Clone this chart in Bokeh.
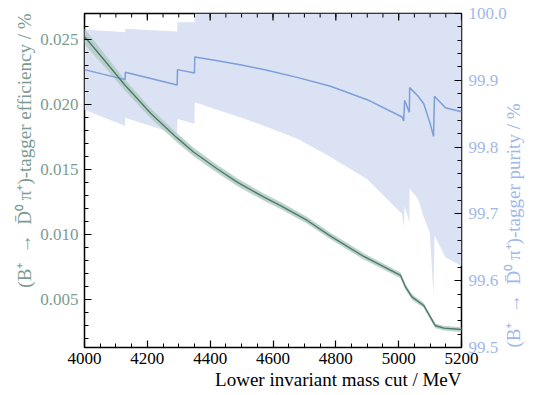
import math
from bokeh.plotting import figure
from bokeh.models import (Range1d, LinearAxis, FixedTicker, PrintfTickFormatter,
                          ColumnDataSource, Title)
from bokeh.embed import file_html
from bokeh.resources import INLINE

# ---- data ----
eff_mass = [4000, 4064, 4127, 4212, 4292, 4348, 4422, 4486, 4571, 4624, 4709, 4783,
            4889, 5006, 5022, 5043, 5080, 5101, 5117, 5144, 5200]
eff_val = [0.02525, 0.02341, 0.02156, 0.01931, 0.01751, 0.01635, 0.01508, 0.01405,
           0.01289, 0.01225, 0.01110, 0.00990, 0.00833, 0.00687, 0.00597, 0.00520,
           0.00456, 0.00366, 0.00300, 0.00282, 0.00271]
eff_err = [0.00060, 0.00050, 0.00042, 0.00038, 0.00035, 0.00033, 0.00031, 0.00030,
           0.00028, 0.00027, 0.00026, 0.00025, 0.00024, 0.00022, 0.00022, 0.00021,
           0.00020, 0.00019, 0.00018, 0.00018, 0.00018]

pur_mass = [4000, 4129, 4130, 4295, 4296, 4350, 4351, 4414, 4500, 4581, 4680, 4783,
            4900, 5011, 5016, 5019, 5034, 5035, 5062, 5080, 5099, 5111, 5114, 5149, 5200]
pur_val = [99.916, 99.901, 99.912, 99.893, 99.916, 99.911, 99.935, 99.930, 99.923,
           99.915, 99.904, 99.891, 99.871, 99.845, 99.839, 99.870, 99.852, 99.889,
           99.876, 99.865, 99.837, 99.816, 99.876, 99.859, 99.853]
pur_low = [99.856, 99.832, 99.844, 99.819, 99.842, 99.835, 99.867, 99.857, 99.844,
           99.830, 99.812, 99.785, 99.752, 99.700, 99.680, 99.712, 99.688, 99.738,
           99.722, 99.695, 99.672, 99.578, 99.668, 99.635, 99.622]
pur_high = [99.976, 99.972, 99.977, 99.973, 99.987, 99.987, 100.0, 100.0, 100.0,
            100.0, 100.0, 100.0, 100.0, 100.0, 100.0, 100.0, 100.0, 100.0, 100.0,
            100.0, 100.0, 100.0, 100.0, 100.0, 100.0]

x_ticks = [4000, 4200, 4400, 4600, 4800, 5000, 5200]
x_minor = list(range(4000, 5201, 50))
eff_ticks = [0.005, 0.010, 0.015, 0.020, 0.025]
pur_ticks = [99.5, 99.6, 99.7, 99.8, 99.9, 100.0]

x_title = "Lower invariant mass cut / MeV"
decay = "(B\u207a\u2002\u2192\u2002D\u0304\u2070\u2009\u03c0\u207a)"
eff_title = decay + "-tagger efficiency / %"
pur_title = decay + "-tagger purity / %"

FONT = "Liberation Serif"
GREEN_LINE = "#4b7a6b"
GREEN_BAND = "#b3cbc3"
GREEN_TEXT = "#7c9c90"
BLUE_LINE = "#7d9edb"
BLUE_BAND = "#dae2f3"
BLUE_TEXT = "#a2b7e9"

X_LO, X_HI = 4000, 5200
EFF_LO, EFF_HI = 0.00133, 0.02702
PUR_LO, PUR_HI = 99.5, 100.0
FRAME_H = 334

p = figure(width=540, height=395, output_backend="svg", toolbar_location=None,
           x_range=Range1d(X_LO, X_HI), y_range=Range1d(EFF_LO, EFF_HI),
           min_border_left=84, min_border_right=79, min_border_top=13,
           min_border_bottom=48, x_axis_location=None, y_axis_location=None)
p.extra_y_ranges = {"pur": Range1d(PUR_LO, PUR_HI)}
p.grid.visible = False
p.outline_line_color = "black"
p.outline_line_width = 1.5
p.background_fill_color = "white"
p.border_fill_color = "white"

# purity band + line
psrc = ColumnDataSource(dict(x=pur_mass, y=pur_val, lo=pur_low, hi=pur_high))
p.varea(x="x", y1="lo", y2="hi", source=psrc, fill_color=BLUE_BAND, fill_alpha=1.0,
        y_range_name="pur")
# efficiency band + line
lo = [v - e for v, e in zip(eff_val, eff_err)]
hi = [v + e for v, e in zip(eff_val, eff_err)]
esrc = ColumnDataSource(dict(x=eff_mass, y=eff_val, lo=lo, hi=hi))
p.varea(x="x", y1="lo", y2="hi", source=esrc, fill_color=GREEN_BAND, fill_alpha=0.85)
p.line(x="x", y="y", source=psrc, line_color=BLUE_LINE, line_width=1.5,
       y_range_name="pur")
p.line(x="x", y="y", source=esrc, line_color=GREEN_LINE, line_width=1.4)

# top-edge inward ticks (mirrored x ticks)
per_px = (PUR_HI - PUR_LO) / FRAME_H
p.segment(x0=x_ticks, x1=x_ticks, y0=[PUR_HI] * len(x_ticks),
          y1=[PUR_HI - 7 * per_px] * len(x_ticks), line_color="black",
          line_width=1.2, y_range_name="pur")
p.segment(x0=x_minor, x1=x_minor, y0=[PUR_HI] * len(x_minor),
          y1=[PUR_HI - 4 * per_px] * len(x_minor), line_color="black",
          line_width=1.0, y_range_name="pur")


def style(ax, color):
    ax.axis_line_color = None
    ax.major_tick_in = 7
    ax.major_tick_out = 0
    ax.minor_tick_in = 4
    ax.minor_tick_out = 0
    ax.major_tick_line_color = "black"
    ax.minor_tick_line_color = "black"
    ax.major_tick_line_width = 1.2
    ax.minor_tick_line_width = 1.0
    ax.major_label_text_font = FONT
    ax.major_label_text_font_size = "17px"
    ax.major_label_text_color = color


xb = LinearAxis(ticker=FixedTicker(ticks=x_ticks, minor_ticks=x_minor))
style(xb, "black")
xb.major_label_standoff = 5
p.add_layout(xb, "below")

yl = LinearAxis(ticker=FixedTicker(ticks=eff_ticks,
                                   minor_ticks=[i / 1000 for i in range(1, 28)]),
                formatter=PrintfTickFormatter(format="%.3f"))
style(yl, GREEN_TEXT)
yl.major_label_standoff = 6
p.add_layout(yl, "left")

yr = LinearAxis(y_range_name="pur",
                ticker=FixedTicker(ticks=pur_ticks,
                                   minor_ticks=[99.5 + i * 0.02 for i in range(26)]),
                formatter=PrintfTickFormatter(format="%.1f"),
                axis_label=pur_title)
style(yr, BLUE_TEXT)
yr.major_label_standoff = 7
yr.axis_label_standoff = 4
yr.axis_label_align = "start"
if hasattr(yr, "axis_label_orientation"):
    yr.axis_label_orientation = math.pi / 2
yr.axis_label_text_font = FONT
yr.axis_label_text_font_size = "19px"
yr.axis_label_text_font_style = "normal"
yr.axis_label_text_color = BLUE_TEXT
p.add_layout(yr, "right")

# axis titles (matplotlib-style: x title right-aligned, left title top-aligned)
TT = dict(text_font=FONT, text_font_size="19px", text_font_style="normal",
          align="right", offset=0)
p.add_layout(Title(text=x_title, text_color="black", standoff=0, **TT), "below")
p.add_layout(Title(text=eff_title, text_color=GREEN_TEXT, standoff=5, **TT), "left")

open("out.html", "w").write(file_html(p, INLINE))
